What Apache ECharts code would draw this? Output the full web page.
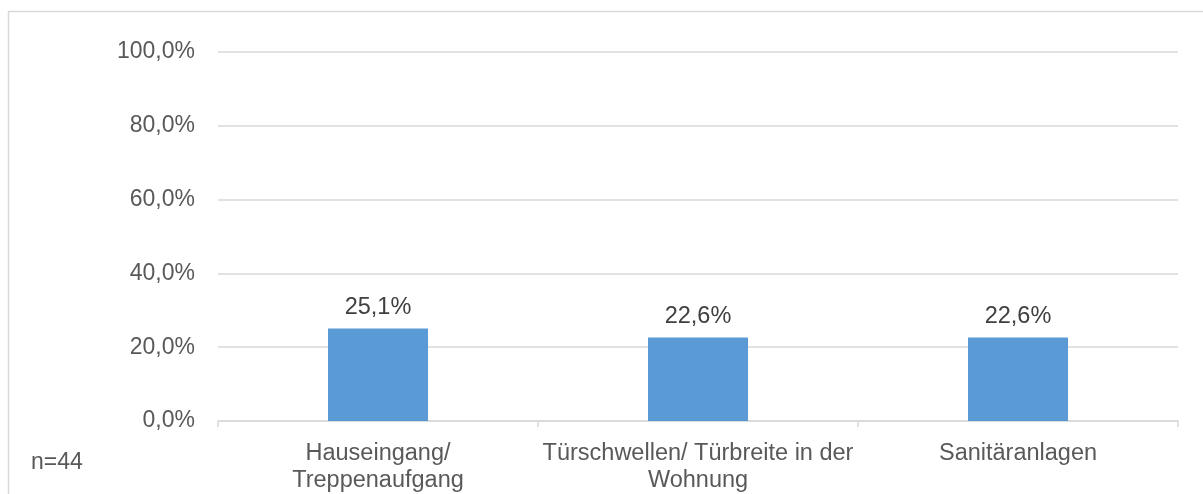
<!DOCTYPE html>
<html>
<head>
<meta charset="utf-8">
<script src="https://cdn.jsdelivr.net/npm/echarts@6/dist/echarts.min.js"></script>
<style>
  html, body { margin: 0; padding: 0; background: #fff; }
  #chart { width: 1203px; height: 494px; }
</style>
</head>
<body>
<div id="chart"></div>
<script>
// Werte aus der Vorlage (Prozent)
var categories = ['Hauseingang/\nTreppenaufgang', 'Türschwellen/ Türbreite in der\nWohnung', 'Sanitäranlagen'];
var values = [25.1, 22.6, 22.6];
var yTicks = [0, 20, 40, 60, 80, 100];
var sampleNote = 'n=44';

var fontFam = '"Liberation Sans", Arial, sans-serif';

function fmtPct(v) {
  return v.toFixed(1).replace('.', ',') + '%';
}

var chart = echarts.init(document.getElementById('chart'), null, { renderer: 'canvas' });

var option = {
  animation: false,
  backgroundColor: '#fff',
  grid: {
    left: 218,
    right: 25,
    top: 52,
    bottom: 73,
    containLabel: false
  },
  xAxis: {
    type: 'category',
    data: categories,
    axisLine: { show: true, lineStyle: { color: '#d9d9d9', width: 1.5 } },
    axisTick: { show: true, length: 6, lineStyle: { color: '#d9d9d9', width: 1.5 } },
    axisLabel: {
      color: '#595959',
      fontFamily: fontFam,
      fontSize: 23.5,
      lineHeight: 27,
      margin: 19,
      interval: 0
    }
  },
  yAxis: {
    type: 'value',
    min: yTicks[0],
    max: yTicks[yTicks.length - 1],
    interval: 20,
    axisLine: { show: false },
    axisTick: { show: false },
    splitLine: { lineStyle: { color: '#d9d9d9', width: 1.5 } },
    axisLabel: {
      color: '#595959',
      fontFamily: fontFam,
      fontSize: 23,
      margin: 23,
      formatter: function (v) { return fmtPct(v); }
    }
  },
  series: [{
    type: 'bar',
    data: values,
    barWidth: 100,
    itemStyle: { color: '#5b9bd5' },
    label: {
      show: true,
      position: 'top',
      distance: 9,
      color: '#404040',
      fontFamily: fontFam,
      fontSize: 23.5,
      formatter: function (p) { return fmtPct(p.value); }
    }
  }],
  graphic: [
    {
      type: 'rect',
      shape: { x: 8.5, y: 11.5, width: 1300, height: 600 },
      style: { fill: null, stroke: '#d9d9d9', lineWidth: 1.5 },
      silent: true
    },
    {
      type: 'text',
      left: 31,
      top: 451,
      style: {
        text: sampleNote,
        fill: '#595959',
        font: '23px ' + fontFam
      }
    }
  ]
};

chart.setOption(option);
</script>
</body>
</html>
